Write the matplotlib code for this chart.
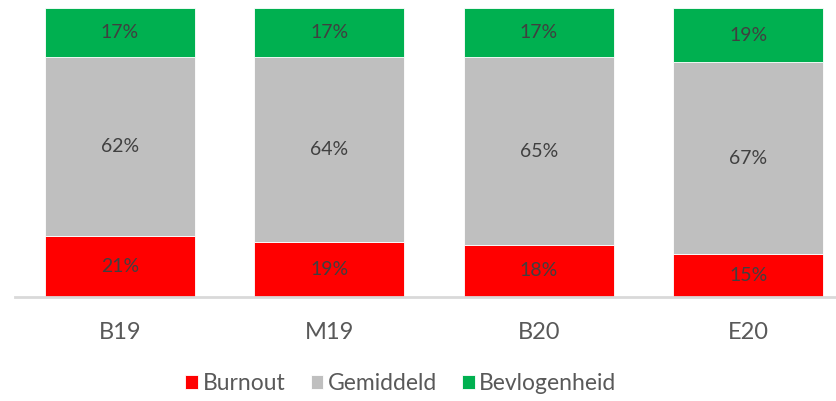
import numpy as np
import matplotlib.pyplot as plt

plt.rcParams['font.family'] = ['Lato', 'DejaVu Sans']

categories = ['B19', 'M19', 'B20', 'E20']
burnout = [21, 19, 18, 15]
gemiddeld = [62, 64, 65, 67]
bevlogenheid = [17, 17, 17, 19]

series = [('Burnout', burnout, '#FF0000'),
          ('Gemiddeld', gemiddeld, '#BFBFBF'),
          ('Bevlogenheid', bevlogenheid, '#00B050')]

totals = np.array(burnout) + np.array(gemiddeld) + np.array(bevlogenheid)

fig = plt.figure(figsize=(8.37, 4.01), dpi=100)
ax = fig.add_axes([15 / 837, 104 / 401, 838 / 837, 289 / 401])

x = np.arange(len(categories))
bottom = np.zeros(len(categories))
for name, vals, col in series:
    share = np.array(vals) / totals
    ax.bar(x, share, 0.716, bottom=bottom, color=col, edgecolor='white',
           linewidth=0.6, label=name)
    for xi, b, s, v in zip(x, bottom, share, vals):
        ax.text(xi, b + s / 2, f'{v}%', ha='center', va='center',
                fontsize=14, color='#404040')
    bottom += share

ax.set_xlim(-0.5, 3.5)
ax.set_ylim(0, 1)
ax.set_yticks([])
ax.set_xticks(x)
ax.set_xticklabels(categories, fontsize=17, color='#595959')
ax.tick_params(axis='x', length=0, pad=18)
for s in ['top', 'right', 'left']:
    ax.spines[s].set_visible(False)
ax.spines['bottom'].set_color('#D9D9D9')
ax.spines['bottom'].set_linewidth(2)

fig.legend(loc='center', bbox_to_anchor=(401 / 837, 17 / 401), ncol=3,
           frameon=False, fontsize=16.5, handlelength=0.55, handleheight=0.55,
           handletextpad=0.2, columnspacing=1.1, labelcolor='#595959')

fig.savefig('out.png', dpi=100)
